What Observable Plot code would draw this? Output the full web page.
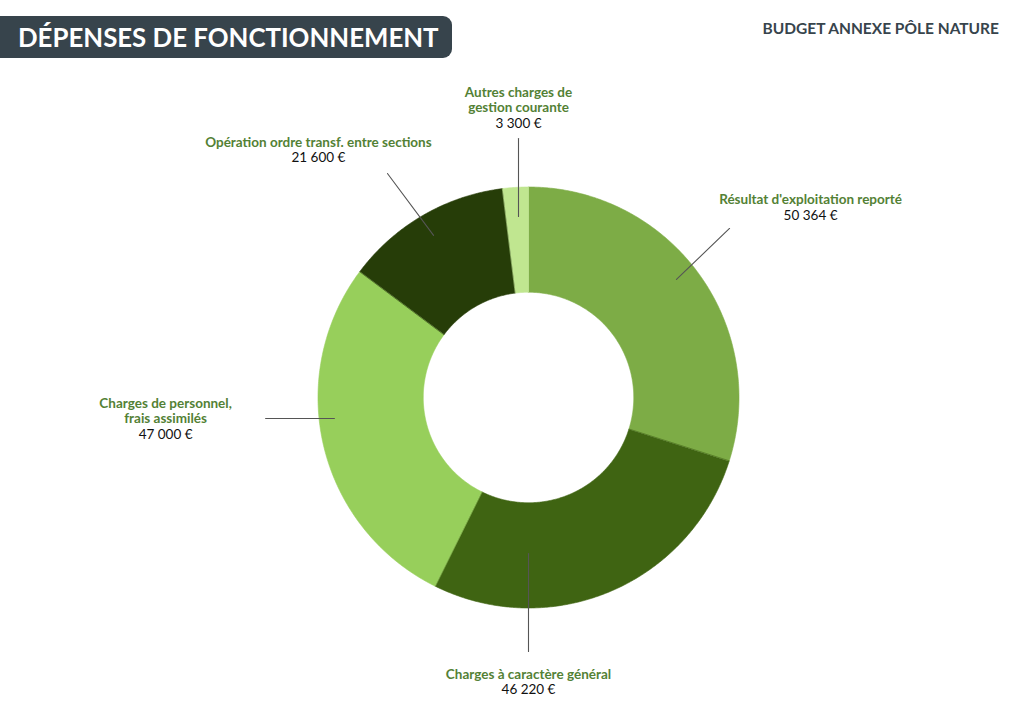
<!DOCTYPE html>
<html>
<head>
<meta charset="utf-8">
<script src="https://cdn.jsdelivr.net/npm/d3@7"></script>
<script src="https://cdn.jsdelivr.net/npm/@observablehq/plot@0.6"></script>
<style>
  html, body { margin: 0; padding: 0; background: #fff; }
  body { width: 1024px; height: 724px; position: relative; overflow: hidden; font-family: Lato, "Open Sans", sans-serif; }
  #header { position: relative; height: 70px; }
  #title { position: absolute; left: 0; top: 16px; width: 452px; height: 42px; background: #37444C;
           border-radius: 0 9px 9px 0; color: #fff; font-weight: 700; font-size: 25.8px; line-height: 42px;
           box-sizing: border-box; padding-left: 18px; white-space: nowrap; }
  #subtitle { position: absolute; right: 25px; top: 19px; color: #37444C; font-weight: 700; font-size: 15.5px; white-space: nowrap; }
  #chart svg { display: block; }
</style>
</head>
<body>
<div id="header">
  <div id="title">DÉPENSES DE FONCTIONNEMENT</div>
  <div id="subtitle">BUDGET ANNEXE PÔLE NATURE</div>
</div>
<div id="chart"></div>
<script>
// ---- data ----
const categories = [
  "Résultat d'exploitation reporté",
  "Charges à caractère général",
  "Charges de personnel,\nfrais assimilés",
  "Opération ordre transf. entre sections",
  "Autres charges de\ngestion courante"
];
const values = [50364, 46220, 47000, 21600, 3300];
const valueLabels = ["50 364 €", "46 220 €", "47 000 €", "21 600 €", "3 300 €"];

// ---- styles / layout ----
const colors = ["#7DAC46", "#3F6412", "#97CF5B", "#263D08", "#C0E690"];
const W = 1024, H = 654;
const R = 210.5;           // outer radius in px
const innerRatio = 0.5;    // inner radius / outer radius
const cx = 528, cy = 327;  // centre of the donut in svg px
// leader lines and label anchors, in outer-radius units (x right, y up) relative to the centre
const leaderStart = [[0.703, 0.561], [0, -0.741], [-0.922, -0.100], [-0.451, 0.770], [-0.0475, 0.860]];
const leaderEnd   = [[0.955, 0.803], [0, -1.207], [-1.249, -0.100], [-0.670, 1.064], [-0.0475, 1.230]];
const labelAnchor = [[1.340, 0.898], [0, -1.354], [-1.724, -0.1425], [-0.998, 1.173], [-0.0475, 1.335]];

// ---- build slices ----
const table = categories.map((name, i) => ({name, value: values[i], label: valueLabels[i], i}));
const pie = d3.pie().value(d => d.value).sort(null)(table);
const ringPoints = [];
for (const arc of pie) {
  const a0 = arc.startAngle, a1 = arc.endAngle;
  const n = Math.max(4, Math.ceil((a1 - a0) / (Math.PI / 360)));
  for (let k = 0; k <= n; k++) {
    const a = a0 + (a1 - a0) * k / n;
    ringPoints.push({name: arc.data.name, x: Math.sin(a), y: Math.cos(a)});
  }
  for (let k = n; k >= 0; k--) {
    const a = a0 + (a1 - a0) * k / n;
    ringPoints.push({name: arc.data.name, x: innerRatio * Math.sin(a), y: innerRatio * Math.cos(a)});
  }
}
const leaders = table.flatMap((d, i) => [
  {name: d.name, x: leaderStart[i][0], y: leaderStart[i][1]},
  {name: d.name, x: leaderEnd[i][0], y: leaderEnd[i][1]}
]);
const labels = table.map((d, i) => ({...d, x: labelAnchor[i][0], y: labelAnchor[i][1]}));

const chart = Plot.plot({
  width: W,
  height: H,
  margin: 0,
  x: {domain: [-cx / R, (W - cx) / R], range: [0, W], axis: null},
  y: {domain: [-(H - cy) / R, cy / R], range: [H, 0], axis: null},
  color: {domain: categories, range: colors},
  style: {fontFamily: "Lato, 'Open Sans', sans-serif", background: "#fff"},
  marks: [
    Plot.line(ringPoints, {x: "x", y: "y", z: "name", fill: "name", stroke: "name", strokeWidth: 0.6, curve: "linear-closed"}),
    Plot.line(leaders, {x: "x", y: "y", z: "name", stroke: "#555", strokeWidth: 1.1}),
    Plot.text(labels, {x: "x", y: "y", text: "name", lineAnchor: "bottom", dy: -4, fill: "#538135",
      fontWeight: 700, fontSize: 13.5, lineHeight: 1.17, textAnchor: "middle"}),
    Plot.text(labels, {x: "x", y: "y", text: "label", lineAnchor: "top", dy: 2, fill: "#111",
      fontSize: 13.5, textAnchor: "middle"})
  ]
});
document.getElementById("chart").appendChild(chart);
</script>
</body>
</html>
